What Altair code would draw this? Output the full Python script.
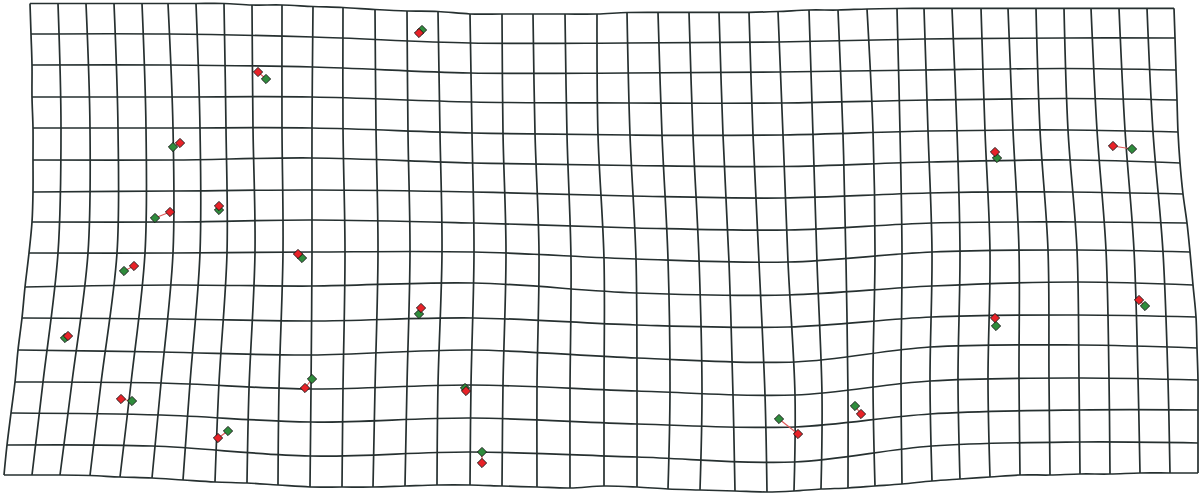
import altair as alt
import pandas as pd

W, H = 1200, 495
N_COLS = 40   # vertical grid lines
N_ROWS = 16   # horizontal grid lines

# x of every vertical grid line at grid rows 0, 4, 8, 12 and 15
col_x_row0 = [30, 58, 86, 114, 142, 168, 196, 224, 252, 282, 313, 343, 375, 407, 438, 470, 502, 533, 565, 597,
              627, 658, 689, 719, 749, 778, 809, 838, 867, 897, 924, 952, 981, 1008, 1036, 1064, 1091, 1119, 1147, 1174]
col_x_row4 = [33, 61, 90, 118, 146, 173, 200, 226, 253, 282, 312, 343, 376, 408, 440, 472, 503, 535, 567, 598,
              630, 662, 693, 723, 753, 783, 813, 843, 873, 900, 928, 957, 985, 1013, 1040, 1068, 1097, 1125, 1153, 1178]
col_x_row8 = [29, 58, 88, 117, 145, 173, 200, 227, 255, 283, 312, 345, 378, 410, 442, 474, 506, 539, 571, 604,
              636, 668, 699, 729, 759, 788, 817, 846, 875, 902, 932, 960, 990, 1019, 1048, 1077, 1106, 1134, 1163, 1190]
col_x_row12 = [15, 43, 72, 101, 131, 161, 190, 219, 249, 279, 311, 343, 375, 407, 438, 471, 503, 537, 570, 604,
               637, 670, 702, 733, 765, 795, 822, 848, 873, 901, 930, 958, 988, 1019, 1049, 1079, 1109, 1138, 1168, 1198]
col_x_row15 = [4, 32, 60, 90, 120, 152, 183, 215, 247, 278, 310, 342, 373, 405, 437, 470, 502, 537, 570, 604,
               637, 668, 700, 735, 767, 794, 821, 848, 875, 902, 932, 960, 990, 1020, 1050, 1080, 1110, 1140, 1170, 1198]

# y of the top and bottom border at every vertical grid line
top_edge_y = [3.5, 3.5, 3.5, 3.5, 3.5, 3.5, 3.5, 3.5, 5, 5, 6.5, 7.5, 9.5, 11, 11.5, 14, 14, 14, 14, 14,
              12.5, 12.3, 12.3, 12.3, 12.3, 11.5, 10, 10, 9, 8.5, 8.3, 8.3, 8.3, 8.3, 8.3, 8.3, 8.3, 8.3, 8.3, 8.3]
bottom_edge_y = [475, 475, 475, 475.5, 477, 478, 480, 482, 483, 485, 487, 487, 487, 486, 485, 485, 486, 487, 488, 486,
                 487, 489, 490, 491, 492, 491, 489, 488, 486, 484, 481, 479, 477, 475, 475, 474, 474, 473, 473, 473]

# x of the left and right border at every horizontal grid line
left_edge_x = [30, 31, 32, 32, 33, 33, 33, 32, 29, 25, 22, 18, 15, 11, 7, 4]
right_edge_x = [1174, 1175, 1176, 1177, 1178, 1180, 1183, 1187, 1190, 1193, 1196, 1197, 1198, 1198, 1198, 1198]

# y of the inner horizontal grid lines at columns 0, 5, 10, 15, 20, 25, 30, 35, 39
row_stations = [0, 5, 10, 15, 20, 25, 30, 35, 39]
row01_y = [34, 34, 37, 43, 43, 42, 39, 38, 38]
row02_y = [65, 65, 67, 73, 73, 72, 70, 68.5, 70]
row03_y = [97, 97, 97, 102, 103, 103, 100, 98.5, 100]
row04_y = [128, 128, 128, 133, 135, 135, 131, 130, 132]
row05_y = [160, 160, 158, 163, 165.5, 166.5, 162, 160, 163]
row06_y = [192, 191, 190, 192, 196, 198, 193, 192, 194]
row07_y = [222, 222, 220, 223, 228, 230, 223, 222, 223]
row08_y = [253, 253, 252, 252, 259, 262, 252, 250, 252]
row09_y = [287, 285, 286, 283, 293, 295, 286, 282, 285]
row10_y = [318, 319, 321, 318, 325, 327, 317, 315, 317]
row11_y = [350, 352, 355, 350, 358, 362, 347, 345, 348]
row12_y = [382, 383, 389, 385, 391, 395, 381, 378, 380]
row13_y = [413, 415, 422, 418, 424, 427, 414, 410, 410]
row14_y = [445, 446, 456, 452, 457, 462, 446, 442, 443]

# landmark pairs: reference (green) and target (red) positions
green_x = [422, 266, 173, 155, 219, 124, 65, 132, 228, 302, 419, 312, 465, 482, 779, 855, 997, 1132, 996, 1145]
green_y = [30, 79, 147, 218, 210, 271, 338, 401, 431, 258, 314, 379, 388, 452, 419, 406, 158, 149, 326, 306]
red_x = [419, 258, 180, 170, 219, 134, 68, 121, 218, 298, 421, 305, 466, 482, 798, 861, 995, 1113, 995, 1139]
red_y = [33, 72, 143, 212, 206, 266, 336, 399, 438, 254, 308, 388, 391, 463, 434, 414, 152, 146, 318, 300]

inner_rows = [row01_y, row02_y, row03_y, row04_y, row05_y, row06_y, row07_y,
              row08_y, row09_y, row10_y, row11_y, row12_y, row13_y, row14_y]
col_stations = [0, 4, 8, 12, 15]
col_tables = [col_x_row0, col_x_row4, col_x_row8, col_x_row12, col_x_row15]


def nearest(values, v):
    return min(range(len(values)), key=lambda k: abs(values[k] - v))


def y_at(row, col):
    if row == 0:
        return top_edge_y[col]
    if row == N_ROWS - 1:
        return bottom_edge_y[col]
    return inner_rows[row - 1][nearest(row_stations, col)]


def x_at(col, row):
    if col == 0:
        return left_edge_x[row]
    if col == N_COLS - 1:
        return right_edge_x[row]
    return col_tables[nearest(col_stations, row)][col]


records = []
# vertical grid lines
for c in range(N_COLS):
    rows = range(N_ROWS) if c in (0, N_COLS - 1) else col_stations
    for k, r in enumerate(rows):
        records.append({"line": f"v{c}", "seq": k, "x": x_at(c, r), "y": y_at(r, c)})
# horizontal grid lines
for r in range(N_ROWS):
    cols = range(N_COLS) if r in (0, N_ROWS - 1) else row_stations
    for k, c in enumerate(cols):
        records.append({"line": f"h{r}", "seq": k, "x": x_at(c, r), "y": y_at(r, c)})
grid = pd.DataFrame(records)

pairs = pd.DataFrame({"gx": green_x, "gy": green_y, "rx": red_x, "ry": red_y})
green_pts = pd.DataFrame({"x": green_x, "y": green_y})
red_pts = pd.DataFrame({"x": red_x, "y": red_y})

xs = alt.Scale(domain=[0, W], range=[0, W], nice=False, zero=False)
ys = alt.Scale(domain=[0, H], range=[0, H], nice=False, zero=False)
X = lambda f: alt.X(f, type="quantitative", scale=xs, axis=None)
Y = lambda f: alt.Y(f, type="quantitative", scale=ys, axis=None)

grid_lines = alt.Chart(grid).mark_line(
    color="#263030", strokeWidth=1.7, interpolate="catmull-rom"
).encode(x=X("x"), y=Y("y"), detail="line:N", order="seq:Q")

links = alt.Chart(pairs).mark_rule(color="#e05a5a", strokeWidth=1.2).encode(
    x=X("gx"), y=Y("gy"), x2="rx", y2="ry"
)

green_marks = alt.Chart(green_pts).mark_point(
    shape="diamond", filled=True, size=85, color="#2f8c3c", stroke="#111111", strokeWidth=0.9, opacity=1
).encode(x=X("x"), y=Y("y"))

red_marks = alt.Chart(red_pts).mark_point(
    shape="diamond", filled=True, size=85, color="#e82228", stroke="#111111", strokeWidth=0.9, opacity=1
).encode(x=X("x"), y=Y("y"))

chart = alt.layer(grid_lines, links, green_marks, red_marks).properties(
    width=W, height=H, padding=0, autosize=alt.AutoSizeParams(type="none"), background="white"
).configure_view(stroke=None)

chart.save("out.html", embed_options={"renderer": "svg", "actions": False})
